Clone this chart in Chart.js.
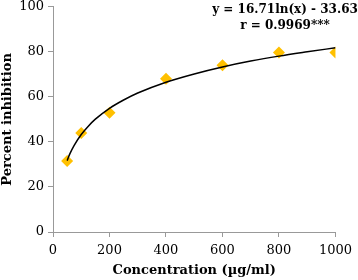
<!DOCTYPE html>
<html><head><meta charset="utf-8">
<script src="https://cdn.jsdelivr.net/npm/chart.js@4"></script>
<style>html,body{margin:0;padding:0;background:#fff;overflow:hidden}#c{display:block;margin-top:-5px}</style>
</head><body>
<canvas id="c" width="358" height="285"></canvas>
<script>
const concentrations = [50, 100, 200, 400, 600, 800, 1000];
const inhibition = [31.5, 44, 53, 68, 74, 79.7, 79.7];
const trendX = [50, 60, 75, 100, 125, 150, 200, 250, 300, 400, 500, 600, 700, 800, 900, 1000];
const trendY = [31.7, 34.8, 38.5, 43.3, 47.0, 50.1, 54.9, 58.6, 61.7, 66.5, 70.2, 73.3, 75.9, 78.1, 80.0, 81.8];
const xTicks = [0, 200, 400, 600, 800, 1000];
const yTicks = [0, 20, 40, 60, 80, 100];
const equationLines = ['y = 16.71ln(x) - 33.63', 'r = 0.9969***'];

const serif = '"DejaVu Serif", serif';

const eqPlugin = {
  id: 'eq',
  afterDraw(chart) {
    const ctx = chart.ctx;
    ctx.save();
    ctx.fillStyle = '#000';
    ctx.font = 'bold 12px ' + serif;
    ctx.textAlign = 'center';
    ctx.textBaseline = 'middle';
    ctx.fillText(equationLines[0], 285, 15);
    ctx.fillText(equationLines[1], 285, 31);
    ctx.restore();
  }
};

new Chart(document.getElementById('c'), {
  type: 'scatter',
  data: {
    datasets: [
      {
        data: concentrations.map((x, i) => ({x, y: inhibition[i]})),
        pointStyle: 'rectRot',
        pointRadius: 6,
        pointHoverRadius: 6,
        backgroundColor: '#FFC000',
        borderColor: '#FFC000',
        borderWidth: 0,
        order: 1
      },
      {
        type: 'line',
        data: trendX.map((x, i) => ({x, y: trendY[i]})),
        borderColor: '#000',
        borderWidth: 1.5,
        pointRadius: 0,
        fill: false,
        cubicInterpolationMode: 'monotone',
        order: 0
      }
    ]
  },
  options: {
    responsive: false,
    animation: false,
    events: [],
    layout: { padding: { top: 0, right: 13, bottom: 0, left: 0 } },
    plugins: { legend: { display: false }, tooltip: { enabled: false } },
    scales: {
      x: {
        type: 'linear',
        min: 0, max: 1000,
        afterBuildTicks: s => { s.ticks = xTicks.map(v => ({value: v})); },
        grid: { drawOnChartArea: false, drawTicks: true, tickLength: 5, color: '#999' },
        border: { color: '#999', width: 1 },
        ticks: { color: '#000', font: { family: serif, size: 13 }, padding: 6, maxRotation: 0, callback: v => String(v) },
        title: { display: true, text: 'Concentration (µg/ml)', color: '#000', font: { family: serif, size: 13, weight: 'bold' }, padding: { top: 4, bottom: 2 } },
        afterFit: s => { s.height = 48; }
      },
      y: {
        min: 0, max: 100,
        afterBuildTicks: s => { s.ticks = yTicks.map(v => ({value: v})); },
        grid: { drawOnChartArea: false, drawTicks: true, tickLength: 5, color: '#999' },
        border: { color: '#999', width: 1 },
        ticks: { color: '#000', font: { family: serif, size: 13 }, padding: 4, callback: v => String(v) },
        title: { display: true, text: 'Percent inhibition', color: '#000', font: { family: serif, size: 13, weight: 'bold' }, padding: { top: 0, bottom: 0 } },
        afterFit: s => { s.width = 53; }
      }
    }
  },
  plugins: [eqPlugin]
});
</script>
</body></html>
